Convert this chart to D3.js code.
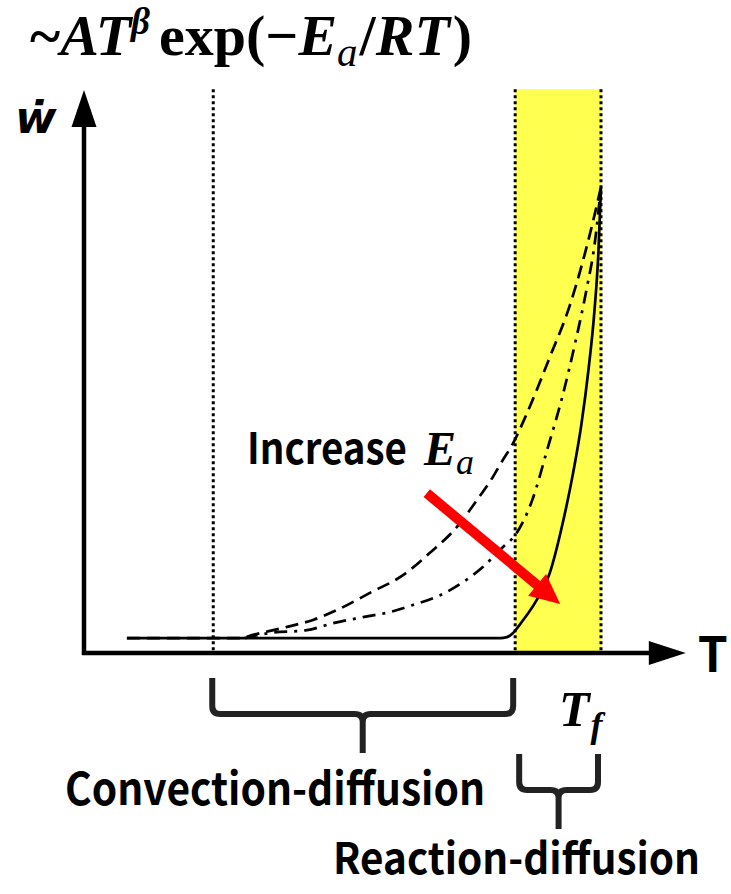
<!DOCTYPE html>
<html>
<head>
<meta charset="utf-8">
<script src="https://cdn.jsdelivr.net/npm/d3@7"></script>
<style>
  html, body { margin: 0; padding: 0; background: #fff; }
  svg { display: block; }
</style>
</head>
<body>
<svg id="chart" width="731" height="894"></svg>
<script>
// ---------------- data ----------------
// Temperature (T) in relative units, reaction rate (w) in relative units
const tSolid   = [8.3, 41.8, 80.5, 81.8, 83.0, 84.7, 87.2, 90.1, 92.6, 94.6, 96.2, 97.6, 98.7, 99.5, 100];
const wSolid   = [3.2, 3.2, 3.2, 3.4, 4.3, 6.7, 10.7, 17.2, 27.9, 38.6, 49.0, 61.0, 73.0, 86.0, 100];

const tDashed  = [8.3, 30.2, 32.7, 39.3, 44.3, 48.9, 55.3, 61.7, 66.9, 72.1, 76.0, 79.1, 81.0, 82.8, 85.7, 90.1, 94.0, 97.9, 100];
const wDashed  = [3.2, 3.2, 3.9, 5.6, 7.1, 9.2, 12.9, 16.7, 21.5, 27.0, 32.8, 37.8, 41.4, 44.6, 51.5, 63.5, 74.7, 90.1, 100];

const tDashDot = [31.1, 36.0, 43.1, 48.2, 54.0, 59.2, 63.6, 68.9, 73.3, 77.2, 81.0, 83.4, 86.7, 89.7, 92.5, 95.0, 97.2, 98.8, 100];
const wDashDot = [3.2, 4.3, 4.9, 6.4, 7.7, 8.8, 10.3, 12.4, 15.2, 18.5, 22.7, 25.3, 32.8, 44.0, 54.9, 66.5, 78.0, 88.0, 100];

const regionBounds = [25, 83.4, 100];          // T values of the dotted guide lines
const regionLabels = ["Convection-diffusion", "Reaction-diffusion"];
const guideTop = 121;                           // w value at top of guides
const axisTRange = [-0.4, 116.4];               // T axis extent (incl. arrow)
const axisWRange = [0, 120.8];                  // w axis extent (incl. arrow)
const arrowFrom = [66.3, 34.3];                 // "Increase Ea" arrow (T, w)
const arrowTo   = [92.1, 10.5];

// ---------------- scales ----------------
const svg = d3.select("#chart");
const x = d3.scaleLinear().domain([0, 100]).range([84, 601]);
const y = d3.scaleLinear().domain([0, 100]).range([653, 187]);

const sansBold = "'Noto Sans CJK KR', 'Noto Sans', sans-serif";
const serif = "'Liberation Serif', 'DejaVu Serif', serif";

// ---------------- yellow reaction zone ----------------
svg.append("rect")
  .attr("x", x(regionBounds[1]))
  .attr("y", y(guideTop))
  .attr("width", x(regionBounds[2]) - x(regionBounds[1]))
  .attr("height", y(0) - y(guideTop))
  .attr("fill", "#ffff4f");

// ---------------- dotted guides ----------------
svg.selectAll("line.guide").data(regionBounds).join("line")
  .attr("class", "guide")
  .attr("x1", d => x(d)).attr("x2", d => x(d))
  .attr("y1", y(guideTop)).attr("y2", y(0))
  .attr("stroke", "#000").attr("stroke-width", 3)
  .attr("stroke-dasharray", "3,3");

// ---------------- curves ----------------
const line = d3.line().x(d => x(d[0])).y(d => y(d[1])).curve(d3.curveMonotoneX);
const series = [
  { t: tDashed,  w: wDashed,  dash: "13,7" },
  { t: tDashDot, w: wDashDot, dash: "13,7,3,7" },
  { t: tSolid,   w: wSolid,   dash: null }
];
series.forEach(s => {
  svg.append("path")
    .attr("d", line(s.t.map((t, i) => [t, s.w[i]])))
    .attr("fill", "none")
    .attr("stroke", "#000")
    .attr("stroke-width", 2.7)
    .attr("stroke-dasharray", s.dash);
});

// ---------------- axes ----------------
const ax = svg.append("g");
ax.append("line")
  .attr("x1", x(axisTRange[0])).attr("x2", x(axisTRange[1]) - 30)
  .attr("y1", y(0)).attr("y2", y(0))
  .attr("stroke", "#000").attr("stroke-width", 4.5);
ax.append("path")
  .attr("d", `M${x(axisTRange[1])},${y(0)} L${x(axisTRange[1]) - 37},${y(0) - 12} L${x(axisTRange[1]) - 37},${y(0) + 12} Z`)
  .attr("fill", "#000");
ax.append("line")
  .attr("x1", x(0)).attr("x2", x(0))
  .attr("y1", y(axisWRange[0]) + 2).attr("y2", y(axisWRange[1]) + 30)
  .attr("stroke", "#000").attr("stroke-width", 4.5);
ax.append("path")
  .attr("d", `M${x(0)},${y(axisWRange[1])} L${x(0) - 12.5},${y(axisWRange[1]) + 37} L${x(0) + 12.5},${y(axisWRange[1]) + 37} Z`)
  .attr("fill", "#000");

// axis labels
svg.append("text").attr("x", x(axisTRange[1]) + 12).attr("y", y(0) + 19)
  .attr("font-family", sansBold).attr("font-weight", 700).attr("font-size", 48)
  .text("T");
svg.append("text").attr("x", 15).attr("y", 133)
  .attr("font-family", "'DejaVu Sans', sans-serif").attr("font-weight", 700)
  .attr("font-style", "italic").attr("font-size", 45)
  .text("ẇ");

// ---------------- title formula ----------------
const title = svg.append("text").attr("x", 30).attr("y", 55)
  .attr("font-family", serif).attr("font-weight", 700).attr("font-size", 58);
title.append("tspan").text("~");
title.append("tspan").attr("font-style", "italic").text("AT");
title.append("tspan").attr("font-style", "italic").attr("font-size", 37).attr("dy", -21).text("β");
title.append("tspan").attr("dy", 21).attr("dx", 9).text("exp(−");
title.append("tspan").attr("font-style", "italic").text("E");
title.append("tspan").attr("font-style", "italic").attr("font-weight", 400).attr("font-size", 41).attr("dy", 11).text("a");
title.append("tspan").attr("dy", -11).attr("dx", 2).text("/");
title.append("tspan").attr("font-style", "italic").text("RT");
title.append("tspan").attr("dx", 3).text(")");

// ---------------- Increase Ea annotation ----------------
svg.append("text").attr("x", 247).attr("y", 464)
  .attr("font-family", sansBold).attr("font-weight", 700).attr("font-size", 43)
  .attr("textLength", 160).attr("lengthAdjust", "spacingAndGlyphs")
  .text("Increase");
const ea = svg.append("text").attr("x", 424).attr("y", 465)
  .attr("font-family", serif).attr("font-weight", 700).attr("font-style", "italic").attr("font-size", 48);
ea.append("tspan").text("E");
ea.append("tspan").attr("font-weight", 400).attr("font-size", 36).attr("dy", 9).text("a");

// red arrow
{
  const x1 = x(arrowFrom[0]), y1 = y(arrowFrom[1]);
  const x2 = x(arrowTo[0]),   y2 = y(arrowTo[1]);
  const ang = Math.atan2(y2 - y1, x2 - x1);
  const headLen = 30, headHalf = 14;
  const bx = x2 - headLen * Math.cos(ang), by = y2 - headLen * Math.sin(ang);
  svg.append("line")
    .attr("x1", x1).attr("y1", y1).attr("x2", bx + 3 * Math.cos(ang)).attr("y2", by + 3 * Math.sin(ang))
    .attr("stroke", "#ff0000").attr("stroke-width", 10);
  const px = -Math.sin(ang), py = Math.cos(ang);
  svg.append("path")
    .attr("d", `M${x2},${y2} L${bx + headHalf * px},${by + headHalf * py} L${bx - headHalf * px},${by - headHalf * py} Z`)
    .attr("fill", "#ff0000");
}

// ---------------- braces ----------------
function brace(xa, xb, top, mid, bottom) {
  const c = (xa + xb) / 2, r = 8;
  return `M${xa},${top} L${xa},${mid - r} Q${xa},${mid} ${xa + r},${mid} L${c - r},${mid} Q${c},${mid} ${c},${mid + r} L${c},${bottom}` +
         ` M${c},${mid + r} Q${c},${mid} ${c + r},${mid} L${xb - r},${mid} Q${xb},${mid} ${xb},${mid - r} L${xb},${top}`;
}
svg.append("path")
  .attr("d", brace(x(regionBounds[0]) - 1, x(regionBounds[1]) - 2, 678, 714, 753))
  .attr("fill", "none").attr("stroke", "#222").attr("stroke-width", 6);
svg.append("path")
  .attr("d", brace(x(regionBounds[1]) + 4, x(regionBounds[2]) - 3, 754, 790, 829))
  .attr("fill", "none").attr("stroke", "#222").attr("stroke-width", 6);

// region labels
svg.append("text").attr("x", 65).attr("y", 805)
  .attr("font-family", sansBold).attr("font-weight", 700).attr("font-size", 45)
  .attr("textLength", 420).attr("lengthAdjust", "spacingAndGlyphs")
  .text(regionLabels[0]);
svg.append("text").attr("x", 333).attr("y", 874)
  .attr("font-family", sansBold).attr("font-weight", 700).attr("font-size", 43)
  .attr("textLength", 367).attr("lengthAdjust", "spacingAndGlyphs")
  .text(regionLabels[1]);

// T_f label
const tf = svg.append("text").attr("x", 559).attr("y", 726)
  .attr("font-family", serif).attr("font-weight", 700).attr("font-style", "italic").attr("font-size", 50);
tf.append("tspan").text("T");
tf.append("tspan").attr("font-size", 36).attr("dy", 11).attr("dx", 1).text("f");
</script>
</body>
</html>
